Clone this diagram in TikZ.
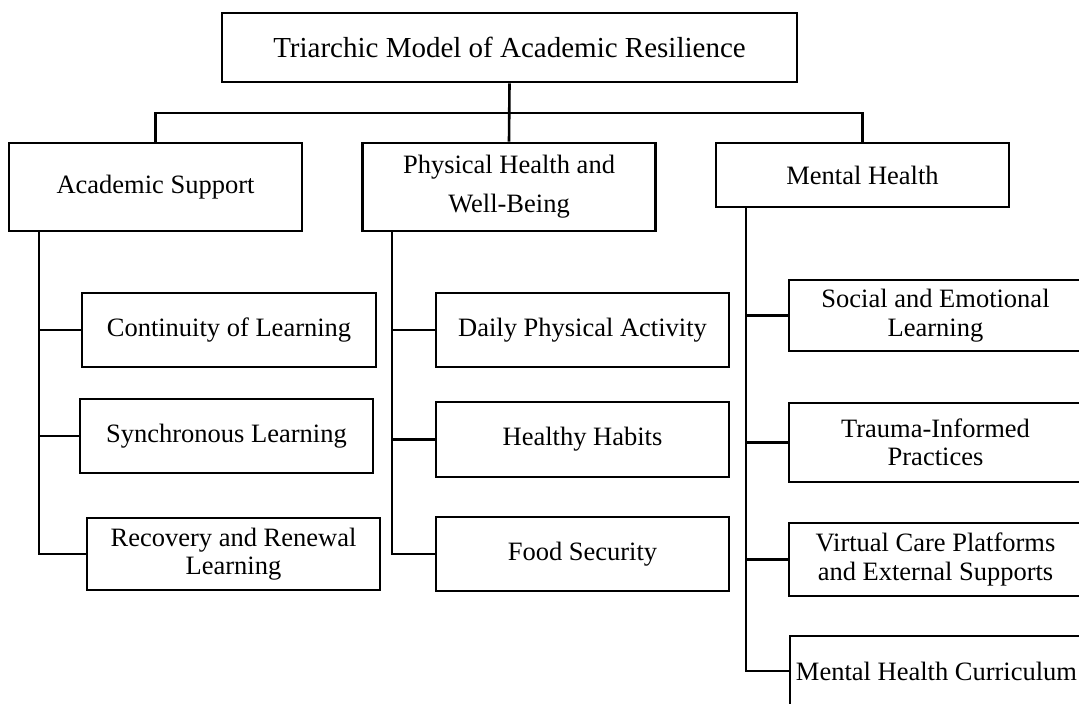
\documentclass[tikz,border=0pt]{standalone}
\usepackage{fontspec}
\setmainfont{Liberation Serif}
\tikzset{
  box/.style={draw, line width=2.8pt, inner sep=0pt, minimum width=293pt, align=center,
              font=\fontsize{26.5}{28.5}\selectfont},
  conn/.style={line width=2.6pt}
}
\begin{document}
\begin{tikzpicture}[x=1pt,y=-1pt]
\useasboundingbox (0,0) rectangle (1079,704);
\clip (0,0) rectangle (1079,704);
\fill[white] (0,0) rectangle (1079,704);
% top and level 1
\node[box, minimum width=575pt, minimum height=69pt, font=\fontsize{29}{31}\selectfont] (top) at (509.5,47.5) {Triarchic Model of Academic Resilience};
\node[box, minimum height=88pt] (acad) at (155.5,187) {Academic Support};
\node[box, minimum height=88pt, font=\fontsize{26.5}{39}\selectfont] (phys) at (509,187) {Physical Health and\\Well-Being};
\node[box, minimum height=64pt] (ment) at (862.5,175) {Mental Health};
% academic children
\node[box, minimum width=294pt, minimum height=74pt] (cont) at (229,330) {Continuity of Learning};
\node[box, minimum height=74pt] (sync) at (226.5,436) {Synchronous Learning};
\node[box, minimum height=72pt] (recov) at (233.5,554) {Recovery and Renewal\\Learning};
% physical children
\node[box, minimum height=74pt] (daily) at (582.5,330) {Daily Physical Activity};
\node[box, minimum height=75pt] (healthy) at (582.5,439.5) {Healthy Habits};
\node[box, minimum height=74pt] (food) at (582.5,554) {Food Security};
% mental children
\node[box, minimum height=71pt] (social) at (935.5,315.5) {Social and Emotional\\Learning};
\node[box, minimum height=79pt] (trauma) at (935.5,442.5) {Trauma-Informed\\Practices};
\node[box, minimum height=73pt] (virtual) at (935.5,559.5) {Virtual Care Platforms\\and External Supports};
\node[box, minimum height=70pt] (curric) at (936.5,671) {Mental Health Curriculum};
% connectors
\coordinate (j) at (509,113);
\coordinate (ta) at (39,0);
\coordinate (tp) at (392,0);
\coordinate (tm) at (746,0);
\draw[conn] (top.south) -- (phys.north);
\draw[conn] (acad.north) |- (j) -| (ment.north);
\draw[conn] (acad.south -| ta) |- (recov.west);
\draw[conn] (cont.west) -- (cont.west -| ta);
\draw[conn] (sync.west) -- (sync.west -| ta);
\draw[conn] (phys.south -| tp) |- (food.west);
\draw[conn] (daily.west) -- (daily.west -| tp);
\draw[conn] (healthy.west) -- (healthy.west -| tp);
\draw[conn] (ment.south -| tm) |- (curric.west);
\draw[conn] (social.west) -- (social.west -| tm);
\draw[conn] (trauma.west) -- (trauma.west -| tm);
\draw[conn] (virtual.west) -- (virtual.west -| tm);
\end{tikzpicture}
\end{document}
